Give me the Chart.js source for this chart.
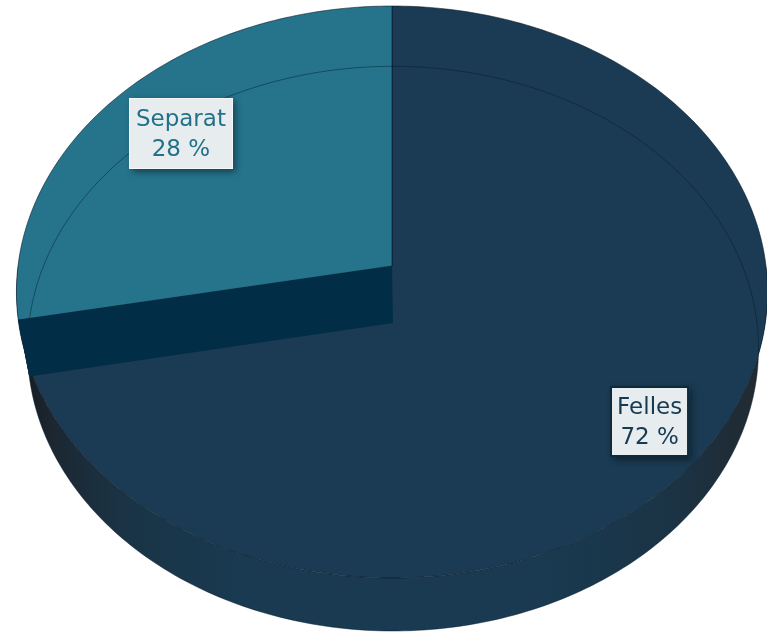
<!DOCTYPE html>
<html>
<head>
<meta charset="utf-8">
<script src="https://cdn.jsdelivr.net/npm/chart.js@4.4.1/dist/chart.umd.min.js"></script>
<style>
  html, body { margin: 0; padding: 0; background: #fff; }
  canvas { display: block; }
</style>
</head>
<body>
<canvas id="pieChart" width="767" height="633"></canvas>
<script>
const categories = ['Felles', 'Separat'];
const shares = [72, 28];
const sliceColors = ['#1a3b53', '#25748c'];
const textColors = ['#163a52', '#22718a'];

// perspective of the tilted disc (top face and bottom face)
const faces = [
    { cx: 392, cy: 266, rx: 374, ry: 283.6 },
    { cx: 393, cy: 323, rx: 364, ry: 280 }
];
const persp = 0.0909;
const labelRadius = [0.85, 0.765];

function project(theta, r, level) {
    const g = faces[level];
    const X = Math.cos(theta) * r;
    const Z = Math.sin(theta) * r;
    const f = 1 / (1 - persp * Z);
    return [g.cx + g.rx * X * f, g.cy + g.ry * Z * f];
}

function arcPath(ctx, a0, a1, level, first) {
    const n = Math.max(8, Math.ceil(Math.abs(a1 - a0) * 60));
    for (let i = 0; i <= n; i++) {
        const p = project(a0 + (a1 - a0) * i / n, 1, level);
        if (i === 0 && first) ctx.moveTo(p[0], p[1]);
        else ctx.lineTo(p[0], p[1]);
    }
}

const pie3d = {
    id: 'pie3d',
    beforeDatasetsDraw(chart) {
        const ctx = chart.ctx;
        const arcs = chart.getDatasetMeta(0).data.map(a => a.getProps(['startAngle', 'endAngle'], true));
        ctx.save();

        // outer side wall, front half only
        const grad = ctx.createLinearGradient(16, 0, 765, 0);
        grad.addColorStop(0, '#15191d');
        grad.addColorStop(0.05, '#1c2731');
        grad.addColorStop(0.14, '#1a3345');
        grad.addColorStop(0.3, '#193a51');
        grad.addColorStop(0.7, '#193a51');
        grad.addColorStop(0.88, '#1b3344');
        grad.addColorStop(0.96, '#1f2c36');
        grad.addColorStop(1, '#232a30');
        arcs.forEach((a, i) => {
            const s = Math.max(a.startAngle, 0);
            const e = Math.min(a.endAngle, Math.PI);
            if (e <= s) return;
            ctx.beginPath();
            arcPath(ctx, s, e, 0, true);
            arcPath(ctx, e, s, 1, false);
            ctx.closePath();
            ctx.fillStyle = i === 0 ? grad : '#0a2536';
            ctx.fill();
        });

        // top faces
        arcs.forEach((a, i) => {
            const c = project(0, 0, 0);
            ctx.beginPath();
            ctx.moveTo(c[0], c[1]);
            arcPath(ctx, a.startAngle, a.endAngle, 0, false);
            ctx.closePath();
            ctx.fillStyle = sliceColors[i];
            ctx.fill();
            ctx.strokeStyle = 'rgba(0,18,32,0.55)';
            ctx.lineWidth = 1;
            ctx.stroke();
        });

        // faint outline of the bottom face
        ctx.beginPath();
        arcPath(ctx, 0, Math.PI * 2, 1, true);
        ctx.strokeStyle = 'rgba(0,25,45,0.45)';
        ctx.lineWidth = 1;
        ctx.stroke();

        // cut face at the end of the first slice
        const cutAngle = arcs[0].endAngle;
        const t0 = project(0, 0, 0), t1 = project(cutAngle, 1, 0);
        const b1 = project(cutAngle, 1, 1), b0 = project(0, 0, 1);
        ctx.beginPath();
        ctx.moveTo(t0[0], t0[1]);
        ctx.lineTo(t1[0], t1[1]);
        ctx.lineTo(b1[0], b1[1]);
        ctx.lineTo(b0[0], b0[1]);
        ctx.closePath();
        ctx.fillStyle = '#022d46';
        ctx.fill();

        ctx.restore();
        return false;
    },
    afterDraw(chart) {
        const ctx = chart.ctx;
        const arcs = chart.getDatasetMeta(0).data.map(a => a.getProps(['startAngle', 'endAngle'], true));
        ctx.save();
        ctx.font = '23px "DejaVu Sans"';
        ctx.textAlign = 'center';
        ctx.textBaseline = 'middle';
        arcs.forEach((a, i) => {
            const mid = (a.startAngle + a.endAngle) / 2;
            const p = project(mid, labelRadius[i], 0);
            p[1] -= i === 0 ? 6 : 0;
            const lines = [categories[i], shares[i] + ' %'];
            const w = Math.max(...lines.map(l => ctx.measureText(l).width)) + 14;
            const h = 71;
            const x = Math.round(p[0] - w / 2), y = Math.round(p[1] - h / 2);
            ctx.save();
            ctx.shadowColor = 'rgba(0,0,0,0.45)';
            ctx.shadowBlur = 7;
            ctx.shadowOffsetX = 3;
            ctx.shadowOffsetY = 3;
            ctx.fillStyle = '#e7ecef';
            ctx.fillRect(x, y, w, h);
            ctx.restore();
            if (i === 0) {
                ctx.strokeStyle = '#0d2a3d';
                ctx.lineWidth = 2;
                ctx.strokeRect(x + 1, y + 1, w - 2, h - 2);
            } else {
                ctx.strokeStyle = 'rgba(255,255,255,0.6)';
                ctx.lineWidth = 1;
                ctx.strokeRect(x + 0.5, y + 0.5, w - 1, h - 1);
            }
            ctx.fillStyle = textColors[i];
            ctx.fillText(lines[0], p[0], p[1] - 14);
            ctx.fillText(lines[1], p[0], p[1] + 16);
        });
        ctx.restore();
    }
};

new Chart(document.getElementById('pieChart'), {
    type: 'pie',
    data: {
        labels: categories,
        datasets: [{
            data: shares,
            backgroundColor: sliceColors,
            borderWidth: 0
        }]
    },
    options: {
        responsive: false,
        animation: false,
        events: [],
        plugins: {
            legend: { display: false },
            tooltip: { enabled: false }
        }
    },
    plugins: [pie3d]
});
</script>
</body>
</html>
